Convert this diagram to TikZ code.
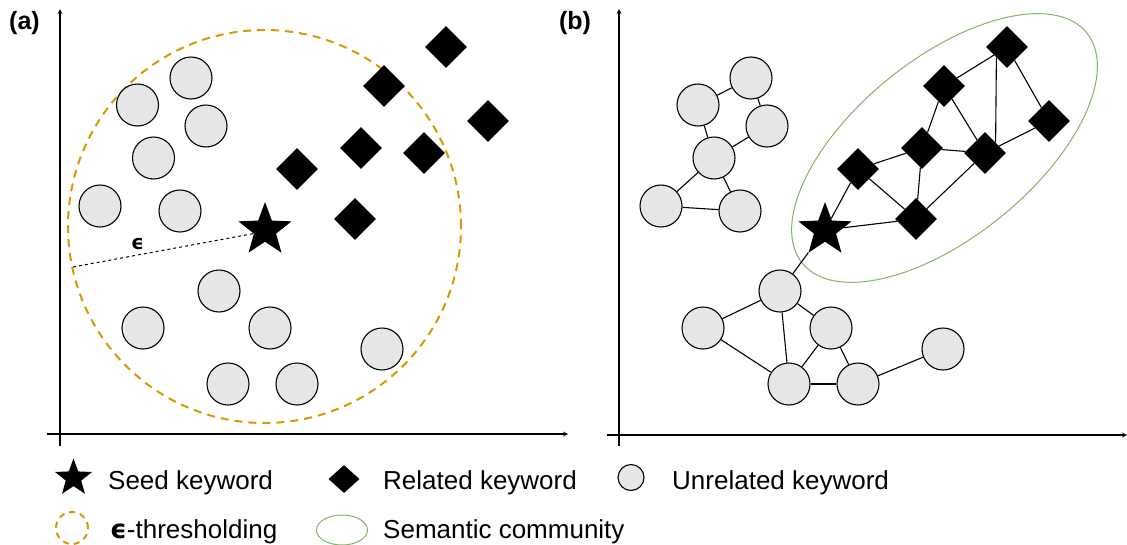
\documentclass[tikz,border=0pt]{standalone}
\usepackage{fontspec}
\setmainfont{Liberation Sans}
\newfontfamily\epsfont{DejaVu Sans}
\usepackage{tikz}
\usetikzlibrary{positioning,shapes.geometric}

\definecolor{unrelfill}{HTML}{E6E6E6}
\definecolor{threshorange}{HTML}{D79B00}
\definecolor{commgreen}{HTML}{82B366}

\begin{document}
\begin{tikzpicture}[x=1pt,y=-1pt,
			unrelated/.style={circle, draw=black, fill=unrelfill, line width=1.1pt, minimum size=42, inner sep=0pt},
			related/.style={diamond, fill=black, minimum width=42, minimum height=42, inner sep=0pt},
			seed/.style={star, star points=5, star point ratio=2.4, fill=black, minimum size=56, inner sep=0pt},
			threshold/.style={circle, draw=threshorange, line width=2pt, dash pattern=on 8pt off 6pt, inner sep=0pt},
			community/.style={ellipse, draw=commgreen, line width=1pt, inner sep=0pt},
			link/.style={line width=1.1pt},
			axis/.style={line width=1.2pt, ->, >=stealth},
			panel/.style={font=\fontsize{25}{30}\selectfont\bfseries},
			legendtext/.style={anchor=base west, inner sep=0pt, font=\fontsize{26}{31}\selectfont},
			]
			\useasboundingbox (0,0) rectangle (1127,544);

			%Panel (a)
				\node[panel]		(label-a)		at (24.5,23)		{(a)};
				\node[threshold, minimum size=393]	(thresh-a)	at (264.5,226.5)	{};
				\coordinate		(axis-a-o1)		at (60,446);
				\coordinate		(axis-a-y)		at (60,9);
				\coordinate		(axis-a-o2)		at (47,434);
				\coordinate		(axis-a-x)		at (568,434);
				\draw[axis] (axis-a-o1) -- (axis-a-y);
				\draw[axis] (axis-a-o2) -- (axis-a-x);

				\node[unrelated]	(unrel-a1)		at (191,78)		{};
				\node[unrelated]	(unrel-a2)		at (137.5,105)	{};
				\node[unrelated]	(unrel-a3)		at (206,126)		{};
				\node[unrelated]	(unrel-a4)		at (153.5,158)	{};
				\node[unrelated]	(unrel-a5)		at (100,206)		{};
				\node[unrelated]	(unrel-a6)		at (180,211)		{};
				\node[unrelated]	(unrel-a7)		at (219,291)		{};
				\node[unrelated]	(unrel-a8)		at (143,328)		{};
				\node[unrelated]	(unrel-a9)		at (270,328)		{};
				\node[unrelated]	(unrel-a10)		at (382,349)		{};
				\node[unrelated]	(unrel-a11)		at (228,384)		{};
				\node[unrelated]	(unrel-a12)		at (297,384)		{};

				\node[related]		(rel-a1)		at (446,47)		{};
				\node[related]		(rel-a2)		at (384,86)		{};
				\node[related]		(rel-a3)		at (488,121)		{};
				\node[related]		(rel-a4)		at (361,148)		{};
				\node[related]		(rel-a5)		at (424,153)		{};
				\node[related]		(rel-a6)		at (297,169)		{};
				\node[related]		(rel-a7)		at (355,219)		{};

				\coordinate		(eps-end)		at (73,267);
				\draw[line width=1pt, dash pattern=on 3pt off 3pt] (eps-end) -- (262,232);
				\node[seed]		(seed-a)		at (265,230)		{};
				\node[font=\fontsize{20}{24}\selectfont\epsfont\bfseries]	(eps-label)	at (137.5,244)	{ϵ};

			%Panel (b)
				\node[panel]		(label-b)		at (575,23)		{(b)};
				\node[community, minimum width=366, minimum height=178, rotate=39]	(comm-b)	at (944.5,148)	{};
				\coordinate		(axis-b-o1)		at (619,446);
				\coordinate		(axis-b-y)		at (619,9);
				\coordinate		(axis-b-o2)		at (607,435);
				\coordinate		(axis-b-x)		at (1127,435);
				\draw[axis] (axis-b-o1) -- (axis-b-y);
				\draw[axis] (axis-b-o2) -- (axis-b-x);

				\node[unrelated]	(unrel-b1)		at (751,78)		{};
				\node[unrelated]	(unrel-b2)		at (698,105)		{};
				\node[unrelated]	(unrel-b3)		at (767,126)		{};
				\node[unrelated]	(unrel-b4)		at (714,158)		{};
				\node[unrelated]	(unrel-b5)		at (661,206)		{};
				\node[unrelated]	(unrel-b6)		at (740,211)		{};
				\node[unrelated]	(unrel-b7)		at (780,291)		{};
				\node[unrelated]	(unrel-b8)		at (703,328)		{};
				\node[unrelated]	(unrel-b9)		at (831,328)		{};
				\node[unrelated]	(unrel-b10)		at (943,349)		{};
				\node[unrelated]	(unrel-b11)		at (789,384)		{};
				\node[unrelated]	(unrel-b12)		at (858,384)		{};

				\node[related]		(rel-b1)		at (1007,47)		{};
				\node[related]		(rel-b2)		at (944,86)		{};
				\node[related]		(rel-b3)		at (1049,121)	{};
				\node[related]		(rel-b4)		at (922,148)		{};
				\node[related]		(rel-b5)		at (985,153)		{};
				\node[related]		(rel-b6)		at (858,169)		{};
				\node[related]		(rel-b7)		at (916,219)		{};
				\node[seed]		(seed-b)		at (825,230)		{};

			%Lines
				\draw[link] (unrel-b2) -- (unrel-b1);
				\draw[link] (unrel-b1) -- (unrel-b3);
				\draw[link] (unrel-b2) -- (unrel-b4);
				\draw[link] (unrel-b4) -- (unrel-b3);
				\draw[link] (unrel-b4) -- (unrel-b5);
				\draw[link] (unrel-b4) -- (unrel-b6);
				\draw[link] (unrel-b5) -- (unrel-b6);
				\draw[link] (seed-b) -- (unrel-b7);
				\draw[link] (unrel-b7) -- (unrel-b8);
				\draw[link] (unrel-b7) -- (unrel-b11);
				\draw[link] (unrel-b7) -- (unrel-b9);
				\draw[link] (unrel-b8) -- (unrel-b11);
				\draw[link] (unrel-b9) -- (unrel-b11);
				\draw[link] (unrel-b9) -- (unrel-b12);
				\draw[link] (unrel-b11) -- (unrel-b12);
				\draw[link] (unrel-b12) -- (unrel-b10);

				\draw[link] (rel-b2) -- (rel-b1);
				\draw[link] (rel-b1.south west) -- (rel-b5.north east);
				\draw[link] (rel-b1) -- (rel-b3);
				\draw[link] (rel-b2) -- (rel-b4);
				\draw[link] (rel-b2) -- (rel-b5);
				\draw[link] (rel-b4) -- (rel-b5);
				\draw[link] (rel-b5) -- (rel-b3);
				\draw[link] (rel-b6) -- (rel-b4);
				\draw[link] (rel-b4) -- (rel-b7);
				\draw[link] (rel-b6) -- (rel-b7);
				\draw[link] (rel-b7) -- (rel-b5);
				\draw[link] (seed-b) -- (rel-b6);
				\draw[link] (seed-b) -- (rel-b7);

			%Legend
				\node[seed, minimum size=39]	(leg-seed)	at (73.5,478)	{};
				\node[legendtext]	(leg-seed-text)		at (108,489)		{Seed keyword};
				\node[related, minimum width=31, minimum height=28]	(leg-rel)	at (344,479)	{};
				\node[legendtext]	(leg-rel-text)		at (383,489)		{Related keyword};
				\node[unrelated, minimum size=26]	(leg-unrel)	at (631,477.5)	{};
				\node[legendtext]	(leg-unrel-text)	at (672,489)		{Unrelated keyword};
				\node[threshold, minimum size=32, dash pattern=on 6pt off 5pt]	(leg-thresh)	at (72,528)	{};
				\node[legendtext]	(leg-thresh-text)	at (110,538)		{{\epsfont\bfseries ϵ}-thresholding};
				\node[community, minimum width=51, minimum height=30]	(leg-comm)	at (342,530)	{};
				\node[legendtext]	(leg-comm-text)		at (383,538)		{Semantic community};
		\end{tikzpicture}
\end{document}
